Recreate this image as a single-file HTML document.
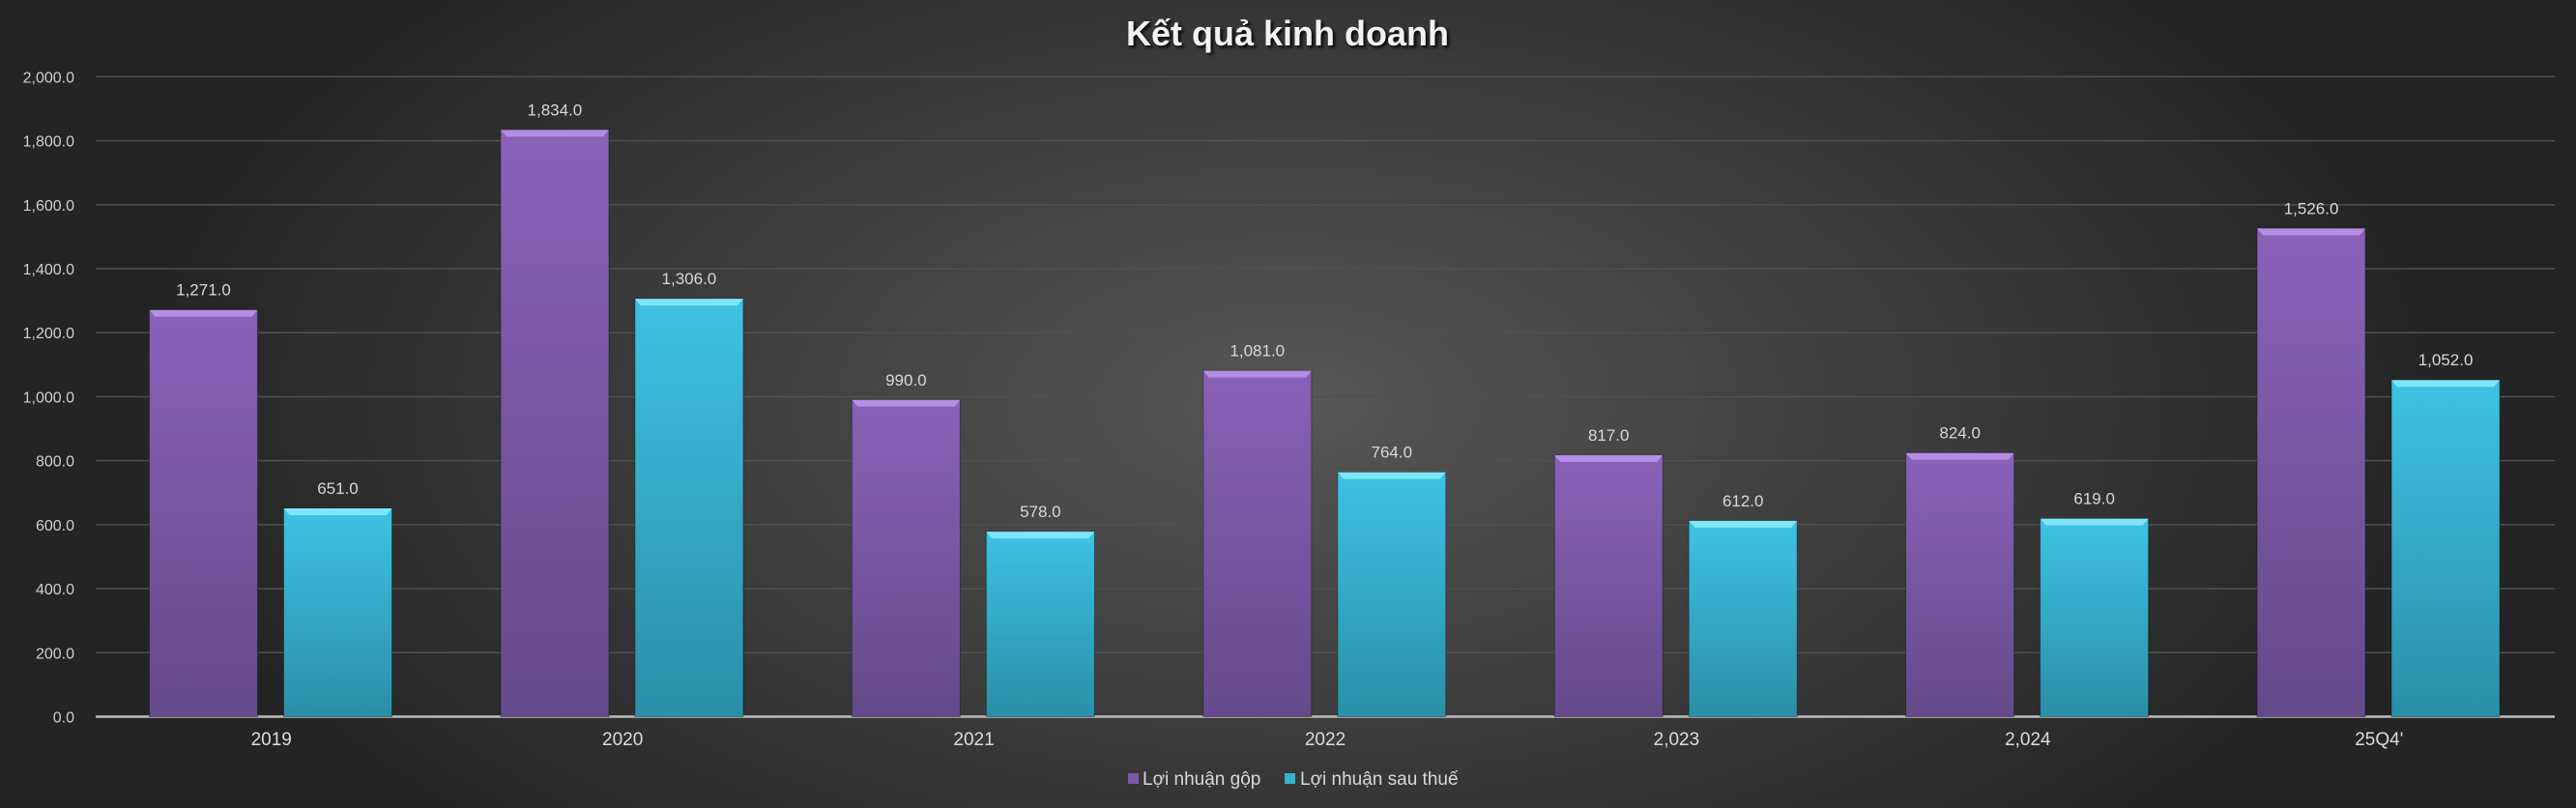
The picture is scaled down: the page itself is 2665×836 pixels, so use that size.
<!DOCTYPE html>
<html><head><meta charset="utf-8"><style>
html,body{margin:0;padding:0;width:2665px;height:836px;overflow:hidden;background:#2a2a2a}
svg{display:block}
text{font-family:"Liberation Sans","DejaVu Sans",sans-serif}
</style></head><body>
<svg id="chart" width="2665" height="836" viewBox="0 0 2665 836" xmlns="http://www.w3.org/2000/svg">
<defs>
<radialGradient id="bg" cx="0.5" cy="0.5" r="0.75" gradientTransform="translate(0.5 0.5) scale(0.6 1) translate(-0.5 -0.5)">
<stop offset="0" stop-color="#575757"/><stop offset="1" stop-color="#242424"/></radialGradient>
<linearGradient id="gp" x1="0" y1="0" x2="0" y2="1"><stop offset="0" stop-color="#8862b8"/><stop offset="1" stop-color="#654a8a"/></linearGradient>
<linearGradient id="gc" x1="0" y1="0" x2="0" y2="1"><stop offset="0" stop-color="#3ec2e4"/><stop offset="1" stop-color="#2a8fa8"/></linearGradient>
</defs>
<rect x="0" y="0" width="2665" height="836" fill="url(#bg)"/>
<text x="1332" y="47" text-anchor="middle" font-size="36" font-weight="bold" fill="#f2f2f2" style="text-shadow:2px 2px 3px #000">Kết quả kinh doanh</text>
<g id="grid"></g><g id="bars"></g><g id="labels"></g>
<g>
<rect x="1167" y="800" width="11" height="11" fill="#7c58a8"/>
<text x="1182" y="812" font-size="19" fill="#d9d9d9">Lợi nhuận gộp</text>
<rect x="1329" y="800" width="11" height="11" fill="#38b0d0"/>
<text x="1345" y="812" font-size="19" fill="#d9d9d9">Lợi nhuận sau thuế</text>
</g>
</svg>
<script>
const categories=["2019","2020","2021","2022","2,023","2,024","25Q4'"];
const grossProfit=[1271,1834,990,1081,817,824,1526];
const netProfit=[651,1306,578,764,612,619,1052];
const yTicks=[0,200,400,600,800,1000,1200,1400,1600,1800,2000];
const NS="http://www.w3.org/2000/svg";
const L=99,R=2643,T=79.4,B=741.5,YMAX=2000;
const bw=(R-L)/categories.length;
const y=v=>B-(v/YMAX)*(B-T);
const fmt=v=>v.toLocaleString('en-US',{minimumFractionDigits:1,maximumFractionDigits:1});
function mk(tag,attrs,parent,txt){const e=document.createElementNS(NS,tag);for(const k in attrs)e.setAttribute(k,attrs[k]);if(txt!==undefined)e.textContent=txt;parent.appendChild(e);return e;}
const grid=document.getElementById('grid'),bars=document.getElementById('bars'),labels=document.getElementById('labels');
yTicks.forEach(t=>{
 const l=mk('line',{x1:L,x2:R,y1:y(t),y2:y(t),stroke:t===0?'#bdbdbd':'#505050','stroke-width':t===0?2.5:1.5},grid);
 
 
 const tx=mk('text',{x:77,y:y(t)+6,'text-anchor':'end','font-size':16,fill:'#d0d0d0'},grid,fmt(t));
 
 
});
function bar(x,v,fill,top,name){
 const h=B-y(v);
 const r=mk('rect',{x:x,y:y(v),width:112,height:h,fill:fill,stroke:'rgba(0,0,0,0.35)','stroke-width':1},bars);
 
 
 const p=mk('polygon',{points:`${x},${y(v)} ${x+112},${y(v)} ${x+106},${y(v)+7} ${x+6},${y(v)+7}`,fill:top},bars);
 
 
 const t=mk('text',{x:x+56,y:y(v)-15,'text-anchor':'middle','font-size':17,fill:'#d8d8d8'},labels,fmt(v));
 
 
}
categories.forEach((c,i)=>{
 const x0=L+i*bw;
 bar(x0+55.5,grossProfit[i],'url(#gp)','#b48ee6','bar-gross-'+i);
 bar(x0+194.5,netProfit[i],'url(#gc)','#7ee6fa','bar-net-'+i);
 const t=mk('text',{x:x0+bw/2,y:771,'text-anchor':'middle','font-size':19,fill:'#dcdcdc'},labels,c);
 
 
});
</script>
</body></html>
